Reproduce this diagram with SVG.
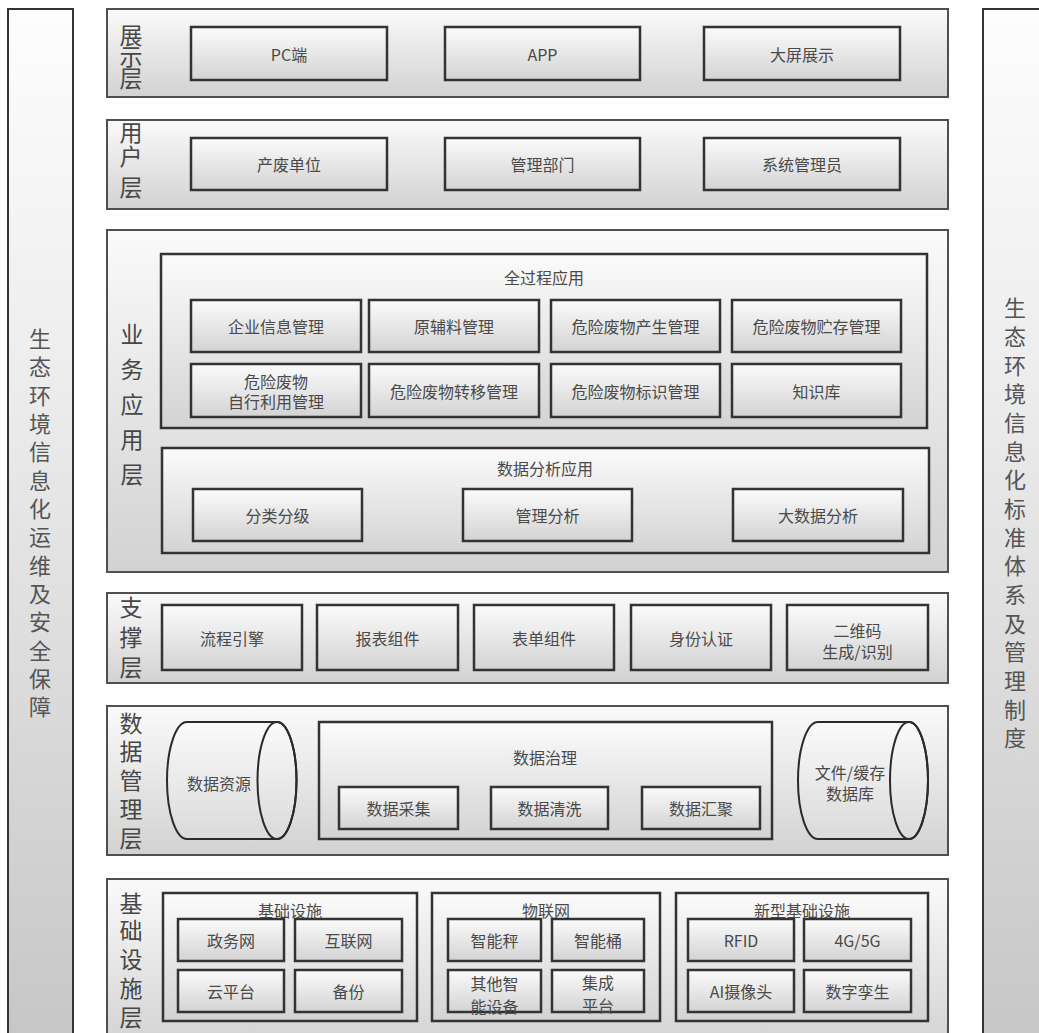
<svg xmlns="http://www.w3.org/2000/svg" width="1039" height="1033" viewBox="0 0 1039 1033">
<defs>
<linearGradient id="gLayer" x1="0" y1="0" x2="0" y2="1"><stop offset="0" stop-color="#fafafa"/><stop offset="1" stop-color="#d2d2d2"/></linearGradient>
<linearGradient id="gBox" x1="0" y1="0" x2="0" y2="1"><stop offset="0" stop-color="#fbfbfb"/><stop offset="1" stop-color="#d3d3d3"/></linearGradient>
<linearGradient id="gSide" x1="0" y1="0" x2="0" y2="1"><stop offset="0" stop-color="#fdfdfd"/><stop offset="0.35" stop-color="#ededed"/><stop offset="1" stop-color="#c6c6c6"/></linearGradient>
<linearGradient id="gCyl" x1="0" y1="0" x2="0" y2="1"><stop offset="0" stop-color="#fafafa"/><stop offset="1" stop-color="#dadada"/></linearGradient>
</defs>
<style>
.layer{fill:url(#gLayer);stroke:#4f4f4f;stroke-width:2}
.box{fill:url(#gBox);stroke:#333;stroke-width:2.5}
.grp{fill:url(#gBox);stroke:#333;stroke-width:2.5}
.side{fill:url(#gSide);stroke:#333;stroke-width:2}
.cyl{fill:url(#gCyl);stroke:#2a2a2a;stroke-width:2}
text{font-family:"Noto Sans CJK SC","Liberation Sans",sans-serif;fill:#4a4a4a;text-anchor:middle;dominant-baseline:central}
.t{font-size:16px}
.lab{font-size:23px;fill:#474747}
.sl{font-size:22px;fill:#555}
</style>

<g id="side-left">
<rect class="side" x="8" y="9" width="65" height="1040"/>
<text class="sl" x="40"><tspan x="40" y="337">生</tspan><tspan x="40" y="365">态</tspan><tspan x="40" y="393.5">环</tspan><tspan x="40" y="422">境</tspan><tspan x="40" y="450">信</tspan><tspan x="40" y="478.5">息</tspan><tspan x="40" y="507">化</tspan><tspan x="40" y="535">运</tspan><tspan x="40" y="563.5">维</tspan><tspan x="40" y="592">及</tspan><tspan x="40" y="620">安</tspan><tspan x="40" y="648.5">全</tspan><tspan x="40" y="677">保</tspan><tspan x="40" y="705">障</tspan></text>
</g>

<g id="side-right">
<rect class="side" x="983" y="9" width="70" height="1040"/>
<text class="sl" x="1015"><tspan x="1015" y="306">生</tspan><tspan x="1015" y="335">态</tspan><tspan x="1015" y="363.5">环</tspan><tspan x="1015" y="392">境</tspan><tspan x="1015" y="421">信</tspan><tspan x="1015" y="449.5">息</tspan><tspan x="1015" y="478">化</tspan><tspan x="1015" y="507">标</tspan><tspan x="1015" y="535.5">准</tspan><tspan x="1015" y="564">体</tspan><tspan x="1015" y="593">系</tspan><tspan x="1015" y="621.5">及</tspan><tspan x="1015" y="650">管</tspan><tspan x="1015" y="679">理</tspan><tspan x="1015" y="707.5">制</tspan><tspan x="1015" y="736">度</tspan></text>
</g>

<g id="layer-display">
<rect class="layer" x="107" y="9" width="841" height="88"/>
<text class="lab"><tspan x="131" y="34">展</tspan><tspan x="131" y="55">示</tspan><tspan x="131" y="77">层</tspan></text>
<g id="pc"><rect class="box" x="191" y="27" width="196" height="53"/><text class="t" x="289" y="53.5">PC端</text></g>
<g id="app"><rect class="box" x="445" y="27" width="195" height="53"/><text class="t" x="542.5" y="53.5">APP</text></g>
<g id="bigscreen"><rect class="box" x="704" y="27" width="196" height="53"/><text class="t" x="802" y="53.5">大屏展示</text></g>
</g>

<g id="layer-user">
<rect class="layer" x="107" y="120" width="841" height="89"/>
<text class="lab"><tspan x="131" y="131">用</tspan><tspan x="131" y="155">户</tspan><tspan x="131" y="186">层</tspan></text>
<g id="producer"><rect class="box" x="191" y="138" width="196" height="52"/><text class="t" x="289" y="164">产废单位</text></g>
<g id="dept"><rect class="box" x="445" y="138" width="195" height="52"/><text class="t" x="542.5" y="164">管理部门</text></g>
<g id="admin"><rect class="box" x="704" y="138" width="196" height="52"/><text class="t" x="802" y="164">系统管理员</text></g>
</g>

<g id="layer-business">
<rect class="layer" x="107" y="230" width="841" height="342"/>
<text class="lab"><tspan x="132" y="333">业</tspan><tspan x="132" y="368">务</tspan><tspan x="132" y="403">应</tspan><tspan x="132" y="438">用</tspan><tspan x="132" y="473">层</tspan></text>
<g id="full-process">
<rect class="grp" x="161" y="254" width="766" height="174"/>
<text class="t" x="544" y="277">全过程应用</text>
<g id="ent-info"><rect class="box" x="191" y="300" width="170" height="52"/><text class="t" x="276" y="326">企业信息管理</text></g>
<g id="raw-mat"><rect class="box" x="369" y="300" width="170" height="52"/><text class="t" x="454" y="326">原辅料管理</text></g>
<g id="hw-gen"><rect class="box" x="551" y="300" width="169" height="52"/><text class="t" x="635.5" y="326">危险废物产生管理</text></g>
<g id="hw-store"><rect class="box" x="732" y="300" width="169" height="52"/><text class="t" x="816.5" y="326">危险废物贮存管理</text></g>
<g id="hw-self"><rect class="box" x="191" y="364" width="170" height="53"/><text class="t" x="276"><tspan x="276" y="381">危险废物</tspan><tspan x="276" y="401">自行利用管理</tspan></text></g>
<g id="hw-transfer"><rect class="box" x="369" y="364" width="170" height="53"/><text class="t" x="454" y="390.5">危险废物转移管理</text></g>
<g id="hw-label"><rect class="box" x="551" y="364" width="169" height="53"/><text class="t" x="635.5" y="390.5">危险废物标识管理</text></g>
<g id="knowledge"><rect class="box" x="732" y="364" width="169" height="53"/><text class="t" x="816.5" y="390.5">知识库</text></g>
</g>
<g id="data-analysis">
<rect class="grp" x="162" y="448" width="767" height="105"/>
<text class="t" x="545" y="468">数据分析应用</text>
<g id="classify"><rect class="box" x="193" y="489" width="169" height="52"/><text class="t" x="277.5" y="515">分类分级</text></g>
<g id="mgmt-analysis"><rect class="box" x="463" y="489" width="169" height="52"/><text class="t" x="547.5" y="515">管理分析</text></g>
<g id="bigdata"><rect class="box" x="733" y="489" width="170" height="52"/><text class="t" x="818" y="515">大数据分析</text></g>
</g>
</g>

<g id="layer-support">
<rect class="layer" x="107" y="593" width="841" height="90"/>
<text class="lab"><tspan x="131" y="606">支</tspan><tspan x="131" y="636">撑</tspan><tspan x="131" y="666">层</tspan></text>
<g id="workflow"><rect class="box" x="162" y="605" width="140" height="65"/><text class="t" x="232" y="637.5">流程引擎</text></g>
<g id="report"><rect class="box" x="317" y="605" width="141" height="65"/><text class="t" x="387.5" y="637.5">报表组件</text></g>
<g id="form"><rect class="box" x="474" y="605" width="140" height="65"/><text class="t" x="544" y="637.5">表单组件</text></g>
<g id="auth"><rect class="box" x="631" y="605" width="140" height="65"/><text class="t" x="701" y="637.5">身份认证</text></g>
<g id="qrcode"><rect class="box" x="787" y="605" width="141" height="65"/><text class="t" x="857.5"><tspan x="857.5" y="630">二维码</tspan><tspan x="857.5" y="651">生成/识别</tspan></text></g>
</g>

<g id="layer-data">
<rect class="layer" x="107" y="706" width="841" height="149"/>
<text class="lab"><tspan x="131" y="722">数</tspan><tspan x="131" y="750">据</tspan><tspan x="131" y="779">管</tspan><tspan x="131" y="808">理</tspan><tspan x="131" y="837">层</tspan></text>
<g id="data-resource">
<path class="cyl" d="M187,722 H277 A19.5,58.5 0 0 1 277,839 H187 A20,58.5 0 0 1 187,722 Z"/>
<ellipse cx="277" cy="780.5" rx="19.5" ry="58.5" fill="none" stroke="#2a2a2a" stroke-width="2"/>
<text class="t" x="219" y="783">数据资源</text>
</g>
<g id="data-governance">
<rect class="grp" x="319" y="722" width="453" height="117"/>
<text class="t" x="545" y="757">数据治理</text>
<g id="collect"><rect class="box" x="339" y="787" width="119" height="42"/><text class="t" x="398.5" y="808">数据采集</text></g>
<g id="clean"><rect class="box" x="491" y="787" width="117" height="42"/><text class="t" x="549.5" y="808">数据清洗</text></g>
<g id="aggregate"><rect class="box" x="642" y="787" width="118" height="42"/><text class="t" x="701" y="808">数据汇聚</text></g>
</g>
<g id="file-cache-db">
<path class="cyl" d="M818,722 H909 A19,58.5 0 0 1 909,839 H818 A20,58.5 0 0 1 818,722 Z"/>
<ellipse cx="909" cy="780.5" rx="19" ry="58.5" fill="none" stroke="#2a2a2a" stroke-width="2"/>
<text class="t" x="850"><tspan x="850" y="772">文件/缓存</tspan><tspan x="850" y="793">数据库</tspan></text>
</g>
</g>

<g id="layer-infra">
<rect class="layer" x="107" y="879" width="841" height="170"/>
<text class="lab"><tspan x="131" y="902">基</tspan><tspan x="131" y="929">础</tspan><tspan x="131" y="958">设</tspan><tspan x="131" y="987">施</tspan><tspan x="131" y="1016">层</tspan></text>
<g id="infra-basic">
<rect class="grp" x="163" y="893" width="254" height="128"/>
<text class="t" x="290" y="910">基础设施</text>
<g id="gov-net"><rect class="box" x="178" y="919" width="106" height="42"/><text class="t" x="231" y="940">政务网</text></g>
<g id="internet"><rect class="box" x="295" y="919" width="107" height="42"/><text class="t" x="348.5" y="940">互联网</text></g>
<g id="cloud"><rect class="box" x="178" y="970" width="106" height="42"/><text class="t" x="231" y="991">云平台</text></g>
<g id="backup"><rect class="box" x="295" y="970" width="107" height="42"/><text class="t" x="348.5" y="991">备份</text></g>
</g>
<g id="iot">
<rect class="grp" x="432" y="893" width="228" height="128"/>
<text class="t" x="546" y="910">物联网</text>
<g id="smart-scale"><rect class="box" x="448" y="919" width="93" height="42"/><text class="t" x="494.5" y="940">智能秤</text></g>
<g id="smart-bin"><rect class="box" x="552" y="919" width="92" height="42"/><text class="t" x="598" y="940">智能桶</text></g>
<g id="other-dev"><rect class="box" x="448" y="970" width="93" height="42"/><text class="t" x="494.5"><tspan x="494.5" y="982.5">其他智</tspan><tspan x="494.5" y="1006">能设备</tspan></text></g>
<g id="integ"><rect class="box" x="552" y="970" width="92" height="42"/><text class="t" x="598"><tspan x="598" y="982">集成</tspan><tspan x="598" y="1005">平台</tspan></text></g>
</g>
<g id="infra-new">
<rect class="grp" x="676" y="893" width="252" height="128"/>
<text class="t" x="802" y="910">新型基础设施</text>
<g id="rfid"><rect class="box" x="688" y="919" width="106" height="42"/><text class="t" x="741" y="940">RFID</text></g>
<g id="g45"><rect class="box" x="804" y="919" width="107" height="42"/><text class="t" x="857.5" y="940">4G/5G</text></g>
<g id="ai-cam"><rect class="box" x="688" y="970" width="106" height="42"/><text class="t" x="741" y="991">AI摄像头</text></g>
<g id="twin"><rect class="box" x="804" y="970" width="107" height="42"/><text class="t" x="857.5" y="991">数字孪生</text></g>
</g>
</g>

<g id="connectors"/>
</svg>
